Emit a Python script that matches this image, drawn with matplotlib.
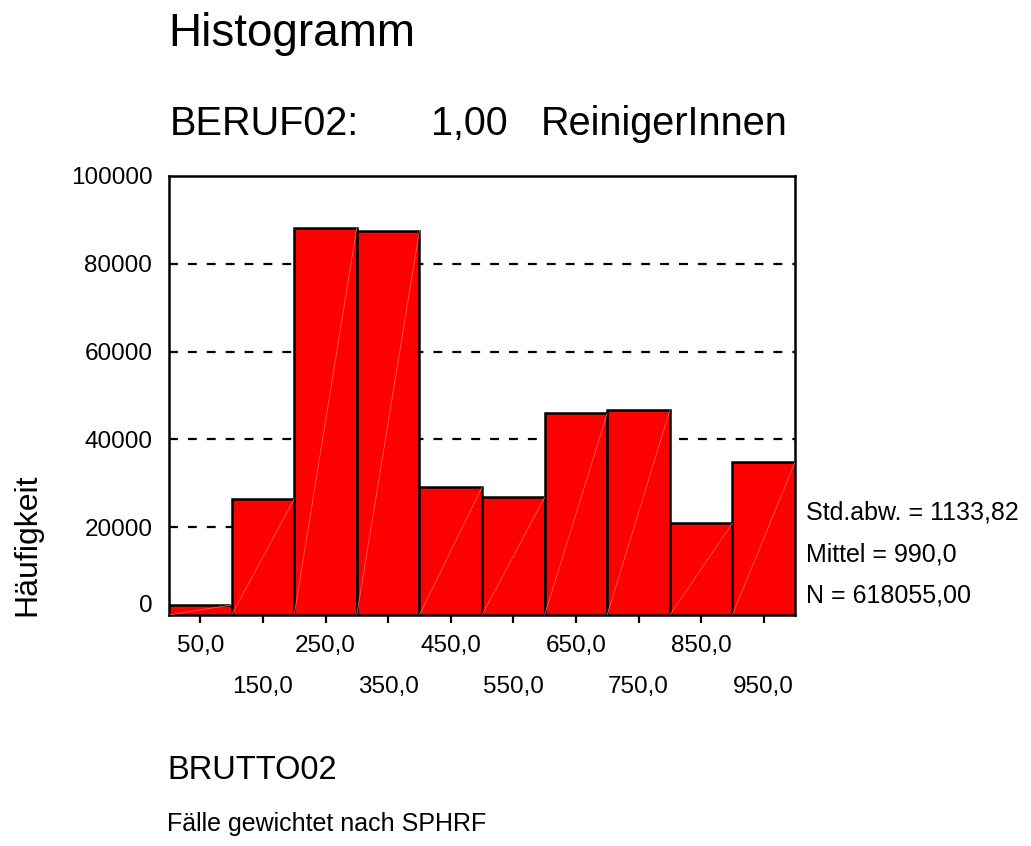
import matplotlib
matplotlib.use("Agg")
import matplotlib.pyplot as plt
import matplotlib.transforms as mtransforms
import numpy as np

# -------------
# Data
# -------------
bin_edges = [0, 100, 200, 300, 400, 500, 600, 700, 800, 900, 1000]
counts = [2300, 26400, 88200, 87500, 29100, 26800, 45900, 46600, 20900, 34800]
tick_values = [50, 150, 250, 350, 450, 550, 650, 750, 850, 950]
tick_labels = ["50,0", "150,0", "250,0", "350,0", "450,0",
               "550,0", "650,0", "750,0", "850,0", "950,0"]
y_ticks = [0, 20000, 40000, 60000, 80000, 100000]
stats = ["Std.abw. = 1133,82", "Mittel = 990,0", "N = 618055,00"]

plt.rcParams["font.family"] = ["Liberation Sans", "DejaVu Sans"]

# -------------
# Drawing plot
# -------------
fig = plt.figure(figsize=(10.31, 8.46), dpi=100)
ax = fig.add_axes([169 / 1031, 1 - 615 / 846, 626 / 1031, 439 / 846])

lefts = np.array(bin_edges[:-1])
widths = np.diff(bin_edges)
ax.bar(lefts, counts, width=widths, align="edge", color="#ff0000",
       edgecolor="black", linewidth=1.8, zorder=3)
# faint diagonal lines inside the bars (as in the original rendering)
for l, w, c in zip(lefts, widths, counts):
    ax.plot([l, l + w], [0, c], color="#ff7070", lw=0.5, zorder=4)

ax.set_xlim(bin_edges[0], bin_edges[-1])
ax.set_ylim(0, 100000)

for v in y_ticks[1:-1]:
    ax.axhline(v, color="black", lw=1.6, ls=(0, (4, 4.5)), zorder=1)

ax.set_yticks(y_ticks)
ax.set_yticklabels([str(v) for v in y_ticks])
ax.set_yticks([0, 100000], minor=True)
ax.tick_params(axis="y", which="major", length=0, pad=12, labelsize=17.5)
ax.tick_params(axis="y", which="minor", length=8, width=1.8)

ax.set_xticks(tick_values)
ax.set_xticklabels(["" for _ in tick_values])
ax.tick_params(axis="x", length=6, width=1.6, direction="out")
for i, (v, lab) in enumerate(zip(tick_values, tick_labels)):
    off = 37 if i % 2 == 0 else 78
    ax.annotate(lab, xy=(v, 0), xycoords=("data", "axes fraction"),
                xytext=(0, -off * 72 / 100), textcoords="offset points",
                ha="center", va="baseline", fontsize=17.5)

# move the "0" label a little upward as in the reference
lab0 = ax.get_yticklabels()[0]
lab0.set_transform(lab0.get_transform() +
                   mtransforms.ScaledTranslation(0, 12 / 100, fig.dpi_scale_trans))

for s in ax.spines.values():
    s.set_linewidth(1.8)

# -------------
# Texts
# -------------
def px(x, y):
    return x / 1031, 1 - y / 846

fig.text(*px(168, 46), "Histogramm", fontsize=33, va="baseline")
fig.text(*px(170, 135), "BERUF02:", fontsize=28.5, va="baseline")
fig.text(*px(431, 135), "1,00", fontsize=28.5, va="baseline")
fig.text(*px(541, 135), "ReinigerInnen", fontsize=28.5, va="baseline")
fig.text(*px(35, 545), "Häufigkeit", fontsize=23, rotation=90,
         ha="center", va="baseline", rotation_mode="anchor")
for s, yb in zip(stats, [519, 561, 603]):
    fig.text(*px(806, yb), s, fontsize=18, va="baseline")
fig.text(*px(167, 779), "BRUTTO02", fontsize=23.5, va="baseline")
fig.text(*px(167, 831), "Fälle gewichtet nach SPHRF", fontsize=18, va="baseline")

fig.savefig("out.png", dpi=100)
